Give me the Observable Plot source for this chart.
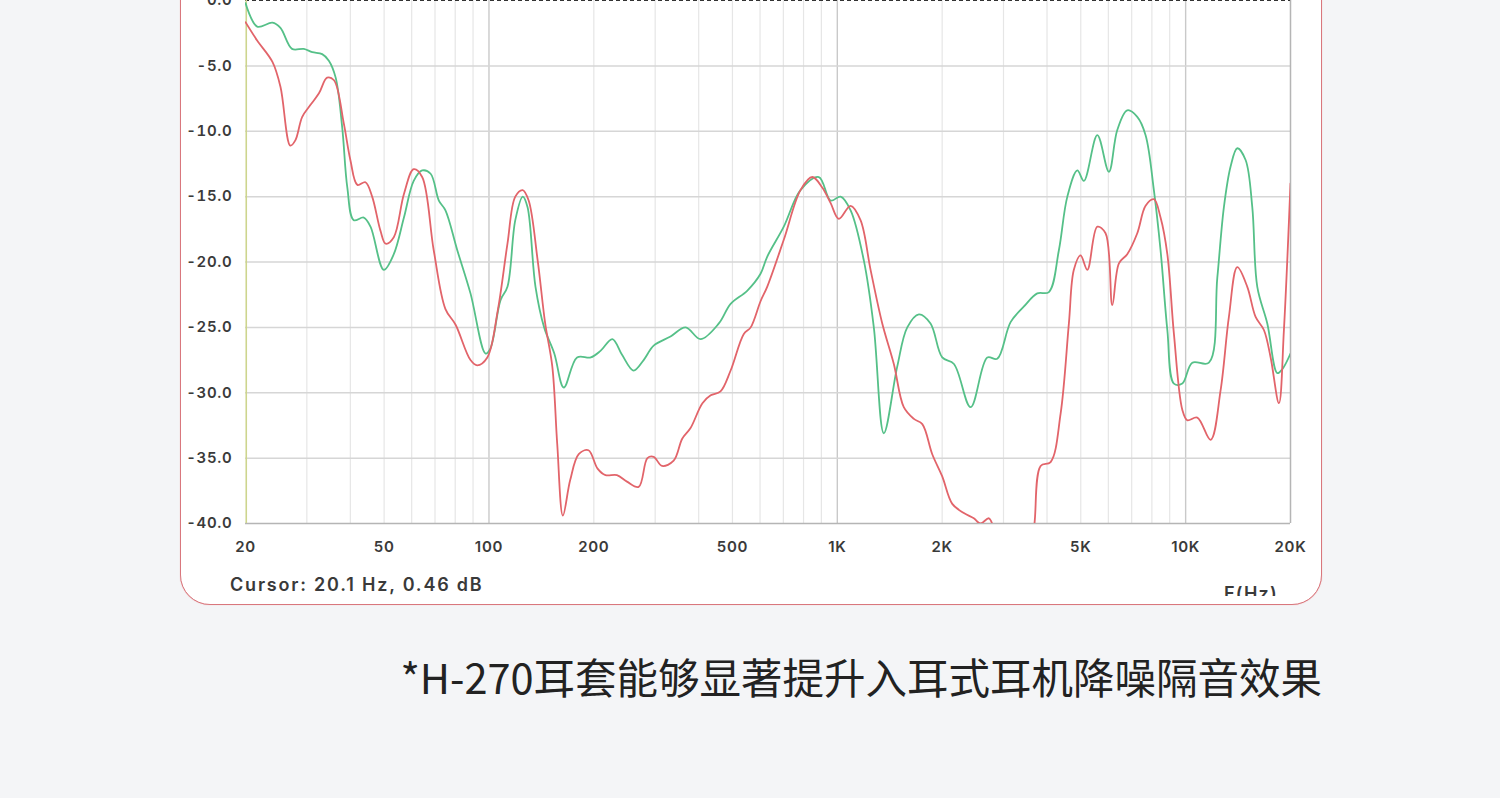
<!DOCTYPE html>
<html><head><meta charset="utf-8">
<script src="https://cdn.jsdelivr.net/npm/d3@7"></script>
<script src="https://cdn.jsdelivr.net/npm/@observablehq/plot@0.6"></script>
<style>
html,body{margin:0;padding:0;background:#f4f5f7;width:1500px;height:798px;overflow:hidden;}
#frame{position:absolute;left:180px;top:-40px;width:1142px;height:645px;background:#fff;border:1.8px solid #d9777d;border-radius:30px;box-sizing:border-box;box-shadow:0 0 1px #e8a0a4;}
#chart{position:absolute;left:0;top:0;}
#chart text{letter-spacing:0.7px;}
#cursor{position:absolute;left:230px;top:574px;font:600 18px Inter,"Noto Sans",sans-serif;letter-spacing:1.8px;color:#3a3a3a;}
#fhzclip{position:absolute;left:1215px;top:581px;width:90px;height:15px;overflow:hidden;}
#fhz{position:absolute;left:9px;top:2px;font:600 18px Inter,"Noto Sans",sans-serif;letter-spacing:1.2px;color:#3a3a3a;}
#caption{position:absolute;right:178px;top:646px;font:400 41.5px "Noto Sans CJK SC","Noto Sans",sans-serif;color:#222;white-space:nowrap;}
</style>
</head><body>
<div id="frame"></div>
<div id="chart"></div>
<div id="cursor">Cursor: 20.1 Hz, 0.46 dB</div>
<div id="fhzclip"><span id="fhz">F(Hz)</span></div>
<div id="caption">*H-270耳套能够显著提升入耳式耳机降噪隔音效果</div>
<script>
const xTicks = [20,50,100,200,500,1000,2000,5000,10000,20000];
const xTickLabels = ["20","50","100","200","500","1K","2K","5K","10K","20K"];
const yTicks = [0,-5,-10,-15,-20,-25,-30,-35,-40];
const minorGrid = [30,40,50,60,70,80,90,200,300,400,500,600,700,800,900,2000,3000,4000,5000,6000,7000,8000,9000];
const majorGrid = [100,1000,10000];
const cursorHz = 20.1;

const greenF = [20,21.6,23.9,25.2,27.2,29.4,31.1,33.2,34.7,36.3,37.9,39.2,40.9,43.7,45.7,49.9,53.3,57.0,60.8,64.3,68.0,71.8,75.0,81.1,88.5,97.8,101,108,113,119,125,129,136,144,154,164,179,196,209,226,241,260,278,297,332,367,405,457,494,551,602,629,702,784,885,957,1022,1092,1192,1273,1360,1486,1588,1715,1852,2001,2162,2414,2695,2878,3144,3434,3750,4050,4326,4575,4887,5104,5577,6021,6364,6798,7263,7674,8106,8472,8860,9254,9782,10448,11664,12329,12878,13460,14070,14864,15535,16058,17156,18330,18946,20000];
const greenDb = [-0.2,-2.0,-1.7,-2.1,-3.7,-3.7,-3.95,-4.1,-4.6,-5.9,-9.7,-14.3,-16.8,-16.6,-17.3,-20.6,-19.4,-16.6,-13.8,-13.0,-13.25,-15.3,-16.05,-19.1,-22.4,-27.0,-26.6,-22.9,-21.9,-16.8,-15.0,-15.8,-21.9,-25.0,-27.0,-29.6,-27.3,-27.3,-26.8,-25.9,-27.1,-28.3,-27.5,-26.4,-25.7,-25.0,-25.9,-24.7,-23.2,-22.2,-20.9,-19.6,-17.3,-14.5,-13.5,-15.3,-15.0,-16.05,-19.9,-25.0,-33.1,-28.0,-25.0,-24.0,-24.7,-27.3,-27.8,-31.1,-27.3,-27.4,-24.6,-23.4,-22.4,-22.3,-19.1,-15.0,-13.0,-13.8,-10.3,-13.1,-9.9,-8.4,-8.9,-10.3,-14.5,-19.1,-25.2,-29.3,-29.3,-27.7,-27.7,-21.2,-15.8,-12.7,-11.3,-12.2,-15.8,-21.9,-24.7,-28.5,-28.2,-27.0];

const redF = [20,21.6,23.9,25.2,26.9,27.8,29.1,30.7,32.5,34.3,35.9,38.3,40.0,41.9,44.2,46.2,48.8,50.5,53.3,57.0,60.8,64.3,69.4,75.0,80.2,88.5,92.5,98.9,106,113,119,125,130,138,145,152,157,163,171,181,193,205,216,233,249,269,285,297,314,339,359,379,410,433,462,494,539,564,602,629,702,784,848,905,957,1010,1092,1166,1246,1346,1453,1552,1659,1754,1873,2001,2138,2308,2466,2577,2724,2814,3000,3300,3550,3668,3834,4096,4376,4622,4776,4994,5221,5577,5890,6158,6434,6798,7263,7674,8106,8472,8860,9254,9782,10108,10800,11794,12601,13310,14070,15030,15880,16776,17538,18526,19148,20000];
const redDb = [-1.66,-3.06,-4.7,-6.6,-11.1,-10.7,-8.9,-8.0,-7.1,-5.9,-6.1,-9.4,-12.2,-14.1,-13.9,-15.0,-17.6,-18.6,-18.1,-14.8,-12.9,-13.5,-19.1,-23.6,-24.8,-27.5,-27.9,-27.3,-23.7,-18.6,-15.0,-14.5,-15.3,-19.9,-24.7,-28.0,-33.9,-39.4,-36.7,-34.7,-34.4,-35.8,-36.3,-36.3,-36.8,-37.2,-35.0,-34.9,-35.6,-35.2,-33.5,-32.7,-30.8,-30.2,-29.9,-28.3,-25.5,-25.0,-23.0,-21.9,-18.3,-14.5,-13.5,-14.3,-15.5,-16.7,-15.7,-16.8,-20.6,-24.7,-27.8,-31.1,-32.0,-32.4,-34.7,-36.4,-38.5,-39.2,-39.6,-40.0,-39.6,-40.3,-41.5,-42.0,-41.5,-40.3,-35.6,-35.3,-31.6,-24.7,-20.6,-19.5,-20.6,-17.3,-17.8,-23.3,-20.1,-19.4,-17.8,-15.7,-15.2,-16.6,-19.4,-25.5,-31.3,-32.1,-31.9,-33.6,-29.8,-24.2,-20.4,-21.9,-24.2,-25.2,-27.3,-30.8,-25.2,-14.0];

const green = greenF.map((f,i)=>({f, db: greenDb[i]}));
const red = redF.map((f,i)=>({f, db: redDb[i]}));

const chart = Plot.plot({
  width: 1500,
  height: 620,
  marginLeft: 245,
  marginRight: 210,
  marginTop: 0,
  marginBottom: 97,
  style: {background: "transparent", fontFamily: "Inter, 'Noto Sans', sans-serif", fontSize: "15px", fontWeight: 600, color: "#3a3a3a", overflow: "visible"},
  x: {type: "log", domain: [20, 20000], label: null, axis: null},
  y: {domain: [-40, 0], label: null},
  marks: [
    Plot.ruleX(minorGrid, {stroke: "#e6e6e6", strokeWidth: 1.2}),
    Plot.ruleX(majorGrid, {stroke: "#c9c9c9", strokeWidth: 1.4}),
    Plot.ruleY(yTicks.filter(d => d < 0 && d > -40), {stroke: "#d6d6d6", strokeWidth: 1.5}),
    Plot.ruleY([-40], {stroke: "#b5b5b5", strokeWidth: 1.5}),
    Plot.ruleX([20000], {stroke: "#b5b5b5", strokeWidth: 1.5}),
    Plot.ruleY([0], {stroke: "#333", strokeWidth: 1, strokeDasharray: "4,3"}),
    Plot.ruleX([cursorHz], {stroke: "#cdd58e", strokeWidth: 1.6}),
    Plot.line(green, {x: "f", y: "db", stroke: "#55c088", strokeWidth: 1.8, curve: "catmull-rom", clip: true}),
    Plot.line(red, {x: "f", y: "db", stroke: "#e2646a", strokeWidth: 1.8, curve: "catmull-rom", clip: true}),
    Plot.axisY({ticks: yTicks, tickFormat: d => d.toFixed(1), tickSize: 0, tickPadding: 13, fontSize: 15, fontWeight: 600}),
    Plot.text(xTicks, {x: d => d, y: () => -40, text: (d, i) => xTickLabels[i], dy: 24, fontSize: 15, fontWeight: 600, fill: "#3a3a3a"})
  ]
});
document.getElementById("chart").appendChild(chart);
</script>
</body></html>
